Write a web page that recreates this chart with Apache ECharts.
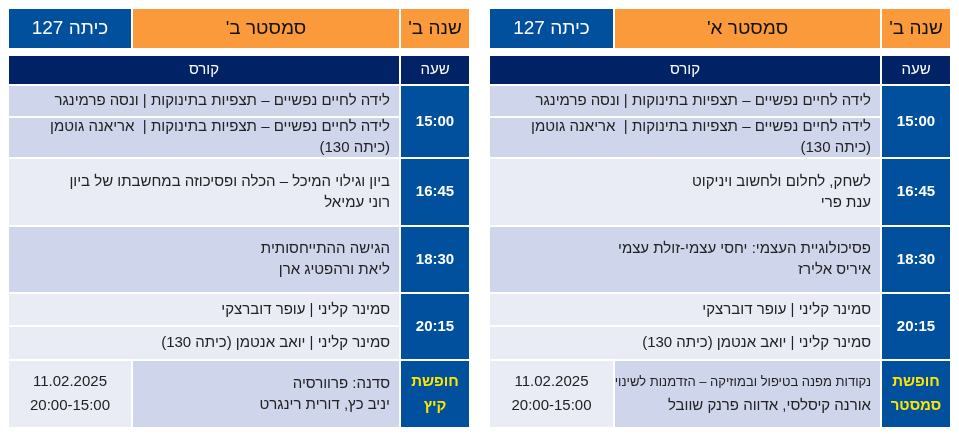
<!DOCTYPE html>
<html><head><meta charset="utf-8">
<script src="https://cdn.jsdelivr.net/npm/echarts@6/dist/echarts.min.js"></script>
<style>html,body{margin:0;background:#fff}#c{width:959px;height:434px}</style>
</head><body><div id="c" dir="rtl"></div>
<script>
// Table content (data)
const yearLabel = "שנה ב'";
const semesters = ["סמסטר א'", "סמסטר ב'"];
const classLabel = "כיתה 127";
const colHeaders = ["שעה", "קורס"];
const times = ["15:00", "16:45", "18:30", "20:15"];
const coursesA = [
  "לידה לחיים נפשיים – תצפיות בתינוקות | ונסה פרמינגר",
  "לידה לחיים נפשיים – תצפיות בתינוקות |  אריאנה גוטמן\n(כיתה 130)",
  "לשחק, לחלום ולחשוב ויניקוט\nענת פרי",
  "פסיכולוגיית העצמי: יחסי עצמי-זולת עצמי\nאיריס אלירז",
  "סמינר קליני | עופר דוברצקי",
  "סמינר קליני | יואב אנטמן (כיתה 130)"
];
const coursesB = [
  "לידה לחיים נפשיים – תצפיות בתינוקות | ונסה פרמינגר",
  "לידה לחיים נפשיים – תצפיות בתינוקות |  אריאנה גוטמן\n(כיתה 130)",
  "ביון וגילוי המיכל – הכלה ופסיכוזה במחשבתו של ביון\nרוני עמיאל",
  "הגישה ההתייחסותית\nליאת ורהפטיג ארן",
  "סמינר קליני | עופר דוברצקי",
  "סמינר קליני | יואב אנטמן (כיתה 130)"
];
const holidayLabels = ["חופשת\nסמסטר", "חופשת\nקיץ"];
const holidayCourses = ["{s|נקודות מפנה בטיפול ובמוזיקה – הזדמנות לשינוי}\nאורנה קיסלסי, אדווה פרנק שוובל", "סדנה: פרוורסיה\nיניב כץ, דורית רינגרט"];
const holidayDates = ["11.02.2025\n20:00-15:00", "11.02.2025\n20:00-15:00"];

// Layout (grid lines)
const rowEdges = [8, 49, 55, 85, 117, 158, 226, 293, 326, 360, 428];
const tableCols = [[489, 614, 881, 951], [8, 132, 400, 470]];
const colors = {orange:'#FA9A3A', blue:'#00509E', navy:'#012265', dark:'#CFD5EA', light:'#E9EBF5'};

const cells = [];
function add(t, c0, c1, r0, r1, text, fill, kind) {
  const cs = tableCols[t];
  cells.push([cs[c0], cs[c1], rowEdges[r0], rowEdges[r1], text, fill, kind]);
}
[0, 1].forEach(t => {
  const courses = t === 0 ? coursesA : coursesB;
  add(t, 2, 3, 0, 1, yearLabel, 'orange', 'head');
  add(t, 1, 2, 0, 1, semesters[t], 'orange', 'head');
  add(t, 0, 1, 0, 1, classLabel, 'blue', 'headw');
  add(t, 2, 3, 2, 3, colHeaders[0], 'navy', 'colh');
  add(t, 0, 2, 2, 3, colHeaders[1], 'navy', 'colh');
  add(t, 2, 3, 3, 5, times[0], 'blue', 'time');
  add(t, 2, 3, 5, 6, times[1], 'blue', 'time');
  add(t, 2, 3, 6, 7, times[2], 'blue', 'time');
  add(t, 2, 3, 7, 9, times[3], 'blue', 'time');
  add(t, 0, 2, 3, 4, courses[0], 'dark', 'course');
  add(t, 0, 2, 4, 5, courses[1], 'dark', 'course');
  add(t, 0, 2, 5, 6, courses[2], 'light', 'course');
  add(t, 0, 2, 6, 7, courses[3], 'dark', 'course');
  add(t, 0, 2, 7, 8, courses[4], 'light', 'course');
  add(t, 0, 2, 8, 9, courses[5], 'light', 'course');
  add(t, 2, 3, 9, 10, holidayLabels[t], 'blue', 'hol');
  add(t, 1, 2, 9, 10, holidayCourses[t], 'dark', 'course');
  add(t, 0, 1, 9, 10, holidayDates[t], 'light', 'date');
});

const FONT = '"Liberation Sans", "DejaVu Sans", sans-serif';
const chart = echarts.init(document.getElementById('c'));
chart.setOption({
  animation: false,
  grid: {left: 0, right: 0, top: 0, bottom: 0},
  xAxis: {type: 'value', min: 0, max: 959, show: false},
  yAxis: {type: 'value', min: 0, max: 434, inverse: true, show: false},
  series: [{
    type: 'custom',
    data: cells,
    renderItem: function (params, api) {
      const d = cells[params.dataIndex];
      const p0 = api.coord([d[0], d[2]]), p1 = api.coord([d[1], d[3]]);
      const x = p0[0], y = p0[1], w = p1[0] - p0[0], h = p1[1] - p0[1];
      const kind = d[6];
      let fill = '#222', size = 15, weight = 'normal', align = 'center', tx = x + w / 2, lh = 22;
      if (kind === 'head') { size = 19; fill = '#111'; }
      if (kind === 'headw') { size = 19; fill = '#fff'; }
      if (kind === 'colh') { size = 15; fill = '#fff'; }
      if (kind === 'time') { size = 15; fill = '#fff'; weight = 'bold'; }
      if (kind === 'hol') { size = 15; fill = '#FFE600'; weight = 'bold'; lh = 24; }
      if (kind === 'course') { align = 'right'; tx = x + w - 10; lh = d[4].indexOf('{s|') === 0 ? 24 : 21; }
      if (kind === 'date') { lh = 24; }
      return {
        type: 'group',
        children: [
          {type: 'rect', shape: {x: x, y: y, width: w, height: h},
           style: {fill: colors[d[5]], stroke: '#fff', lineWidth: 2}},
          {type: 'text', x: tx, y: y + h / 2,
           style: {text: d[4], align: align, verticalAlign: 'middle', fill: fill,
             font: weight + ' ' + size + 'px ' + FONT, lineHeight: lh,
             rich: {s: {fontSize: 13, fontFamily: FONT, fill: '#222', lineHeight: 24}}}}
        ]
      };
    }
  }]
});
</script></body></html>
